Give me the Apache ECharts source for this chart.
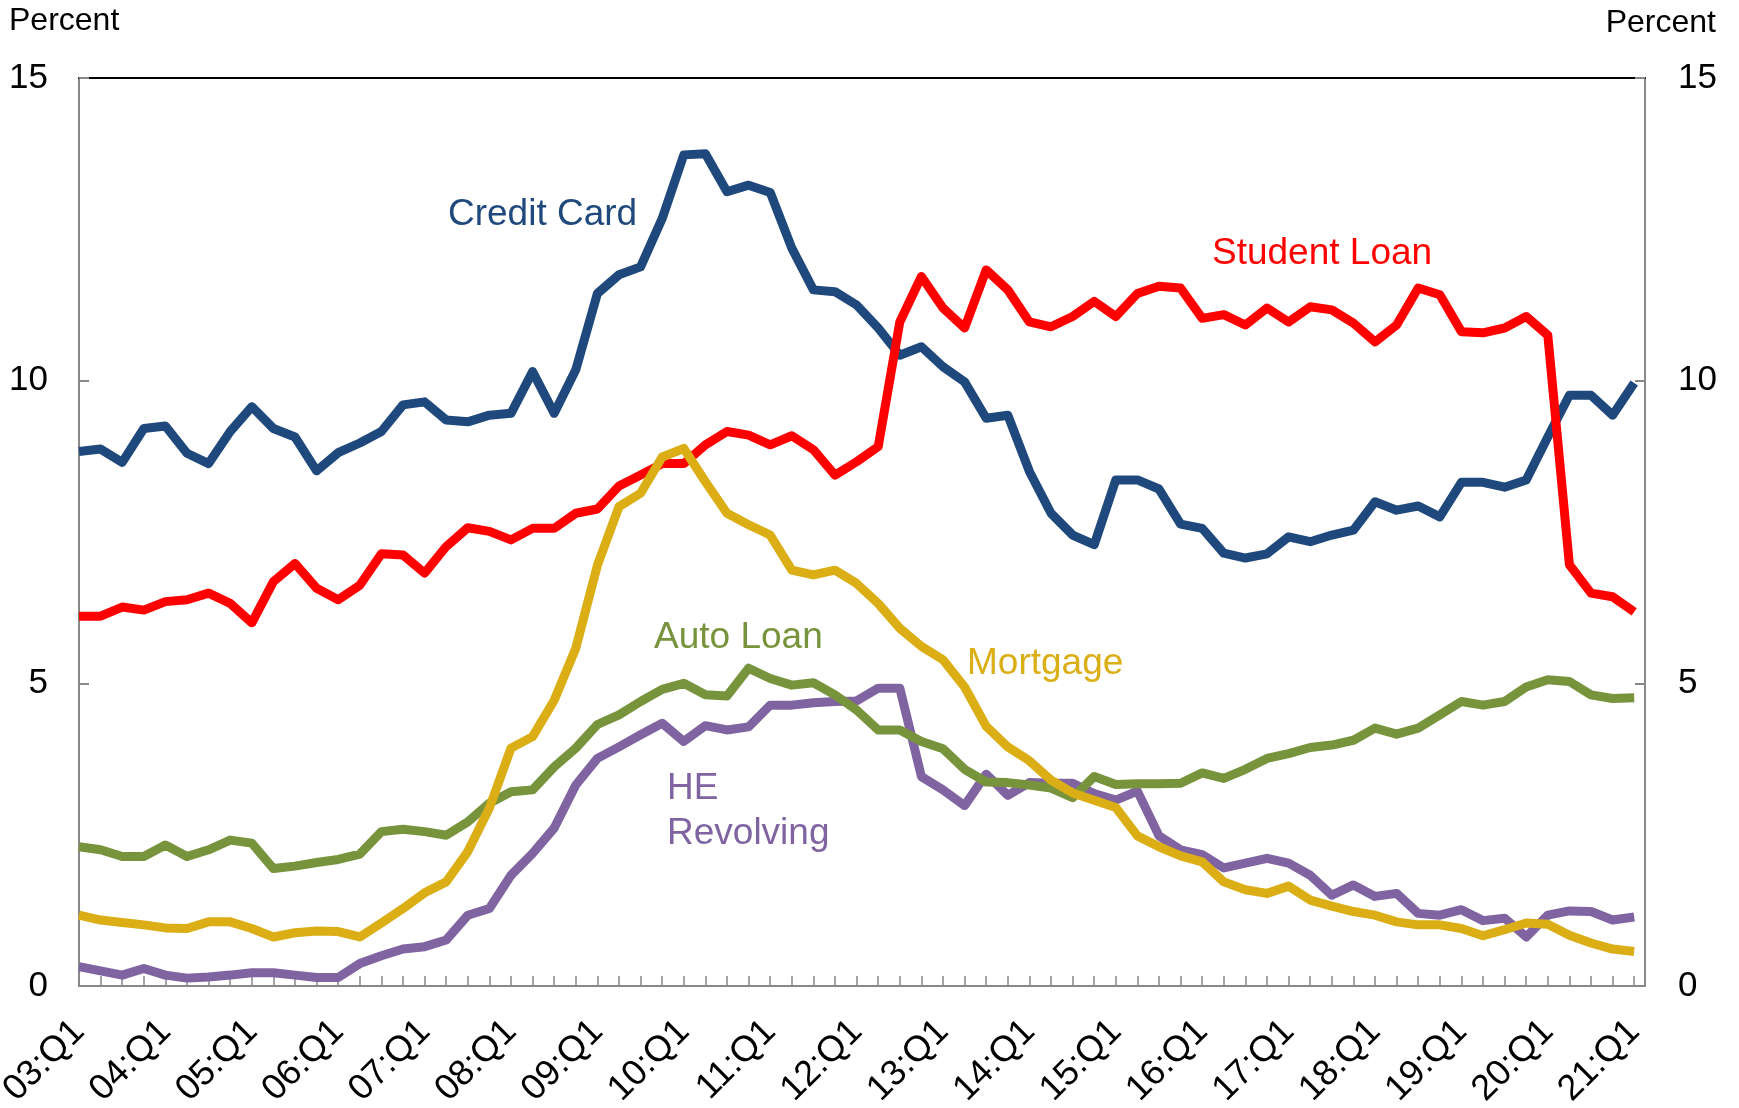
<!DOCTYPE html>
<html>
<head>
<meta charset="utf-8">
<script src="https://cdn.jsdelivr.net/npm/echarts@6/dist/echarts.min.js"></script>
<style>
html,body{margin:0;padding:0;background:#fff;}
#chart{width:1739px;height:1108px;}
</style>
</head>
<body>
<div id="chart"></div>
<script>
// Year-quarter tick labels (every Q1), quarterly data 03:Q1 .. 21:Q1 (73 points)
const tickLabels = ['03:Q1','04:Q1','05:Q1','06:Q1','07:Q1','08:Q1','09:Q1','10:Q1','11:Q1','12:Q1',
  '13:Q1','14:Q1','15:Q1','16:Q1','17:Q1','18:Q1','19:Q1','20:Q1','21:Q1'];
const yTicks = [0, 5, 10, 15];

const creditCard = [8.83,8.87,8.65,9.21,9.25,8.80,8.63,9.16,9.57,9.21,9.07,8.51,8.81,8.97,9.16,9.60,9.65,9.35,9.32,9.43,
  9.46,10.15,9.46,10.18,11.44,11.75,11.88,12.68,13.73,13.75,13.12,13.23,13.11,12.19,11.50,11.47,11.25,10.87,10.42,10.56,
  10.23,9.98,9.38,9.43,8.50,7.81,7.45,7.29,8.36,8.36,8.21,7.63,7.56,7.15,7.07,7.14,7.42,7.34,7.45,7.53,
  8.00,7.86,7.93,7.75,8.32,8.32,8.24,8.36,9.07,9.76,9.76,9.43,9.96];
const studentLoan = [6.11,6.11,6.26,6.21,6.35,6.38,6.49,6.32,6.00,6.68,6.98,6.57,6.38,6.62,7.14,7.12,6.82,7.26,7.57,7.51,
  7.37,7.56,7.56,7.81,7.88,8.26,8.44,8.63,8.63,8.94,9.16,9.10,8.94,9.09,8.86,8.44,8.66,8.91,10.97,11.72,
  11.20,10.87,11.83,11.50,10.97,10.89,11.06,11.31,11.06,11.44,11.56,11.53,11.03,11.09,10.92,11.20,10.97,11.22,11.17,10.95,
  10.64,10.92,11.53,11.42,10.81,10.79,10.87,11.06,10.75,6.96,6.49,6.43,6.18];
const mortgage = [1.17,1.09,1.05,1.01,0.96,0.95,1.06,1.06,0.95,0.81,0.88,0.91,0.90,0.81,1.04,1.28,1.54,1.72,2.22,2.94,
  3.93,4.12,4.72,5.58,6.95,7.92,8.14,8.74,8.88,8.33,7.81,7.62,7.45,6.87,6.79,6.87,6.65,6.32,5.91,5.61,
  5.39,4.94,4.29,3.95,3.72,3.40,3.19,3.07,2.95,2.48,2.30,2.15,2.05,1.72,1.59,1.53,1.65,1.42,1.32,1.23,
  1.17,1.06,1.01,1.01,0.95,0.83,0.93,1.04,1.02,0.84,0.71,0.61,0.57];
const autoLoan = [2.30,2.25,2.14,2.14,2.33,2.14,2.25,2.41,2.36,1.94,1.98,2.04,2.09,2.18,2.55,2.59,2.55,2.49,2.71,3.02,
  3.21,3.24,3.62,3.93,4.32,4.48,4.70,4.90,5.00,4.81,4.79,5.25,5.08,4.97,5.01,4.81,4.56,4.23,4.23,4.04,
  3.92,3.58,3.37,3.36,3.32,3.27,3.11,3.46,3.33,3.34,3.34,3.35,3.52,3.43,3.58,3.76,3.84,3.94,3.98,4.06,
  4.26,4.16,4.26,4.48,4.70,4.64,4.70,4.94,5.06,5.03,4.81,4.75,4.76];
const heRevolving = [0.32,0.25,0.18,0.29,0.18,0.13,0.15,0.18,0.22,0.22,0.18,0.14,0.14,0.37,0.50,0.61,0.65,0.76,1.17,1.28,
  1.83,2.19,2.61,3.32,3.76,3.95,4.15,4.34,4.04,4.30,4.23,4.28,4.64,4.64,4.68,4.70,4.71,4.92,4.92,3.46,
  3.24,2.98,3.50,3.15,3.36,3.35,3.35,3.18,3.07,3.22,2.48,2.25,2.17,1.95,2.03,2.11,2.03,1.83,1.50,1.67,
  1.48,1.53,1.20,1.17,1.26,1.08,1.12,0.81,1.17,1.24,1.23,1.09,1.14];

const COLORS = {cc:'#1F497D', sl:'#FF0000', mg:'#DAAE14', al:'#77933C', he:'#8064A2'};
const FONT = '"Liberation Sans", Arial, sans-serif';

function pairs(arr){ return arr.map((v,i)=>[i,v]); }
function lineSeries(name, arr, color, z){
  return {name, type:'line', data:pairs(arr), showSymbol:false, symbol:'none', z,
    lineStyle:{color, width:9, join:'round', cap:'butt'}, emphasis:{disabled:true}};
}

const chart = echarts.init(document.getElementById('chart'), null, {renderer:'canvas'});
const grayAxis = {lineStyle:{color:'#888', width:2}};
const xMax = 72.5;

const option = {
  animation:false,
  backgroundColor:'#fff',
  grid:{left:79, right:94, top:78, bottom:122, containLabel:false, outerBoundsMode:'none'},
  xAxis:[{
    type:'value', min:0, max:xMax, interval:1, position:'bottom',
    axisLine:{show:true, onZero:false, ...grayAxis},
    axisTick:{show:true, inside:true, length:10, lineStyle:{color:'#888', width:1.5}},
    splitLine:{show:false},
    axisLabel:{rotate:45, margin:40, color:'#000', fontSize:36, fontFamily:FONT,
      formatter:(v)=> (Number.isInteger(v) && v % 4 === 0) ? tickLabels[v/4] : ''}
  },{
    type:'value', min:0, max:xMax, position:'top',
    axisLine:{show:true, onZero:false, lineStyle:{color:'#000', width:2}},
    axisTick:{show:false}, axisLabel:{show:false}, splitLine:{show:false}
  }],
  yAxis:[{
    type:'value', min:yTicks[0], max:yTicks[yTicks.length-1], interval:5, position:'left',
    axisLine:{show:true, onZero:false, ...grayAxis},
    axisTick:{show:true, inside:true, length:10, lineStyle:{color:'#888', width:2}},
    splitLine:{show:false},
    axisLabel:{margin:31, color:'#000', fontSize:35, fontFamily:FONT}
  },{
    type:'value', min:yTicks[0], max:yTicks[yTicks.length-1], interval:5, position:'right',
    axisLine:{show:true, onZero:false, ...grayAxis},
    axisTick:{show:true, inside:true, length:10, lineStyle:{color:'#888', width:2}},
    splitLine:{show:false},
    axisLabel:{margin:33, color:'#000', fontSize:35, fontFamily:FONT}
  }],
  series:[
    lineSeries('Credit Card', creditCard, COLORS.cc, 2),
    lineSeries('Student Loan', studentLoan, COLORS.sl, 3),
    lineSeries('HE Revolving', heRevolving, COLORS.he, 4),
    lineSeries('Auto Loan', autoLoan, COLORS.al, 5),
    lineSeries('Mortgage', mortgage, COLORS.mg, 6)
  ],
  graphic:[
    {type:'text', x:9, y:21, style:{text:'Percent', fill:'#000', font:'32px '+FONT, align:'left', verticalAlign:'middle'}},
    {type:'text', x:1716, y:23, style:{text:'Percent', fill:'#000', font:'32px '+FONT, align:'right', verticalAlign:'middle'}},
    {type:'text', x:448, y:215, style:{text:'Credit Card', fill:COLORS.cc, font:'37px '+FONT, align:'left', verticalAlign:'middle'}},
    {type:'text', x:1212, y:254, style:{text:'Student Loan', fill:COLORS.sl, font:'37px '+FONT, align:'left', verticalAlign:'middle'}},
    {type:'text', x:654, y:638, style:{text:'Auto Loan', fill:COLORS.al, font:'37px '+FONT, align:'left', verticalAlign:'middle'}},
    {type:'text', x:967, y:664, style:{text:'Mortgage', fill:COLORS.mg, font:'37px '+FONT, align:'left', verticalAlign:'middle'}},
    {type:'text', x:667, y:789, style:{text:'HE', fill:COLORS.he, font:'37px '+FONT, align:'left', verticalAlign:'middle'}},
    {type:'text', x:667, y:834, style:{text:'Revolving', fill:COLORS.he, font:'37px '+FONT, align:'left', verticalAlign:'middle'}}
  ]
};
chart.setOption(option);
</script>
</body>
</html>
